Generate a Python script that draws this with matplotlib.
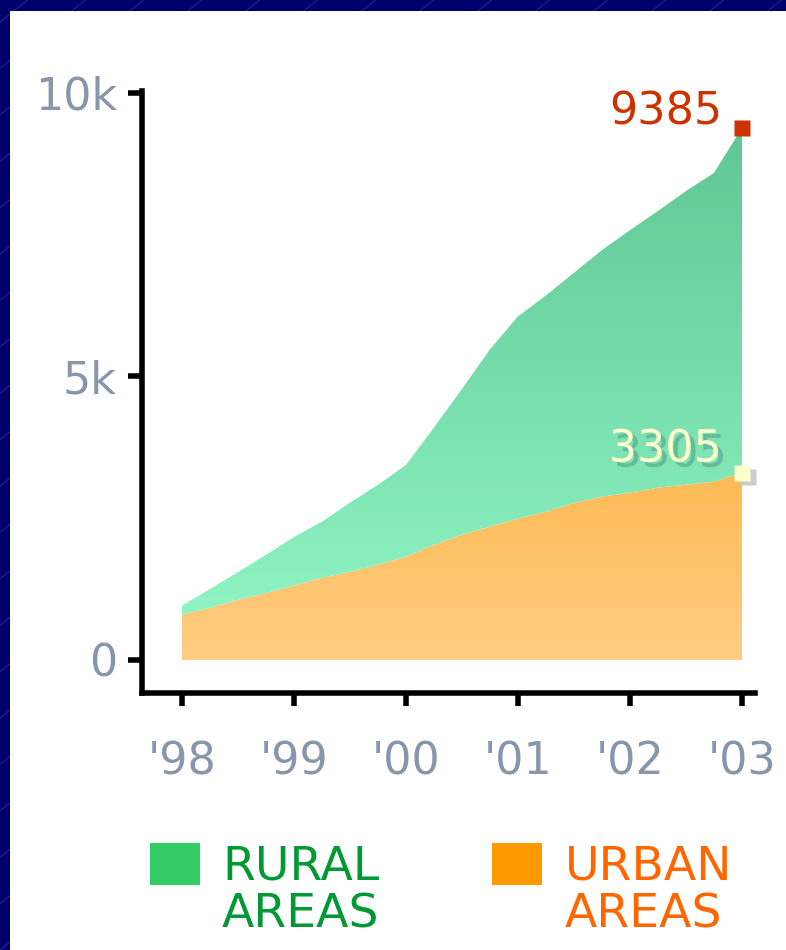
import numpy as np
import matplotlib
matplotlib.use("Agg")
import matplotlib.pyplot as plt
from matplotlib.patches import Rectangle
from matplotlib.lines import Line2D
from matplotlib.colors import to_rgb
import matplotlib.transforms as mtransforms
import matplotlib.patheffects as pe

# ---- data (quarterly) ---------------------------------------------------
periods = [1998.0, 1998.25, 1998.5, 1998.75, 1999.0, 1999.25, 1999.5, 1999.75,
           2000.0, 2000.25, 2000.5, 2000.75, 2001.0, 2001.25, 2001.5, 2001.75,
           2002.0, 2002.25, 2002.5, 2002.75, 2003.0]
urban = [800, 920, 1060, 1180, 1310, 1450, 1555, 1680,
         1820, 2030, 2210, 2350, 2490, 2615, 2770, 2880,
         2950, 3040, 3090, 3145, 3305]
rural = [160, 330, 490, 675, 860, 990, 1220, 1410,
         1620, 2070, 2570, 3130, 3570, 3815, 4060, 4350,
         4630, 4880, 5180, 5445, 6080]

year_ticks = [1998, 1999, 2000, 2001, 2002, 2003]
year_labels = ["'98", "'99", "'00", "'01", "'02", "'03"]
value_ticks = [0, 5000, 10000]
value_labels = ["0", "5k", "10k"]

legend_names = [("RURAL", "AREAS"), ("URBAN", "AREAS")]

# ---- style ------------------------------------------------------------
NAVY = "#00006C"
TICK_GREY = "#8796AA"
GREEN_SWATCH, GREEN_TEXT = "#33CC66", "#009933"
ORANGE_SWATCH, ORANGE_TEXT = "#FF9900", "#FF6600"
FONT = "DejaVu Sans"

W, H = 786, 950
fig = plt.figure(figsize=(W / 100, H / 100), dpi=100)
fig.patch.set_facecolor(NAVY)

# faint diagonal streaks on the navy frame
for k in range(-20, 40):
    x0 = k * 58
    fig.add_artist(Line2D([x0 / W, (x0 + 1250) / W], [0, 1000 / H],
                          transform=fig.transFigure, color="#4a4aa8",
                          lw=0.7, alpha=0.55, zorder=-3))
# white slide panel
fig.add_artist(Rectangle((10 / W, 0), 1, 1 - 11 / H, transform=fig.transFigure,
                         facecolor="white", edgecolor="none", zorder=-2))

ax = fig.add_axes([142 / W, 1 - 693 / H, (755 - 142) / W, (693 - 91) / H])
ax.set_facecolor("none")

x = np.array(periods)
u = np.array(urban, dtype=float)
total = u + np.array(rural, dtype=float)


def gradient_fill(ax, x, lo, hi, y_bot, y_top, c_bot, c_top):
    poly = ax.fill_between(x, lo, hi, facecolor="none", edgecolor="none")
    yy = np.linspace(y_bot, y_top, 256)
    f = ((yy - y_bot) / (y_top - y_bot))[:, None]
    cb, ct = np.array(to_rgb(c_bot)), np.array(to_rgb(c_top))
    img = (cb * (1 - f) + ct * f)[:, None, :]
    path = poly.get_paths()[0]
    im = ax.imshow(img, extent=[x.min(), x.max(), y_bot, y_top],
                   origin="lower", aspect="auto", zorder=1, interpolation="bilinear")
    im.set_clip_path(path, transform=ax.transData)


# stacked areas: urban at the base, rural on top
gradient_fill(ax, x, 0, u, 0, 3400, "#FFCD82", "#FFBA55")
gradient_fill(ax, x, u, total, 600, 9400, "#90F4C4", "#5FC694")

# end-point markers and value labels
ax.plot(x[-1], total[-1], "s", color="#CC3300", ms=11, mec="none",
        clip_on=False, zorder=4)
ax.annotate(f"{total[-1]:.0f}", (x[-1], total[-1]), xytext=(-20, 3),
            textcoords="offset pixels", ha="right", va="baseline",
            color="#CC3300", fontsize=32, family=FONT, zorder=5)

shadow = mtransforms.offset_copy(ax.transData, fig=fig, x=6, y=-4, units="dots")
ax.plot(x[-1], u[-1], "s", color="#CCCCCC", ms=11, mec="none",
        clip_on=False, zorder=3, transform=shadow)
ax.plot(x[-1], u[-1], "s", color="#FFFFCC", ms=11, mec="none",
        clip_on=False, zorder=4)
ax.annotate(f"{u[-1]:.0f}", (x[-1], u[-1]), xytext=(-20, 11),
            textcoords="offset pixels", ha="right", va="baseline",
            color="#FFFFCC", fontsize=32, family=FONT, zorder=5,
            path_effects=[pe.SimplePatchShadow(offset=(3.6, -3.6),
                                               shadow_rgbFace="#66BB99",
                                               alpha=1.0),
                          pe.Normal()])

# axes
ax.set_xlim(1998 - 40 / 112, 2003 + 13 / 112)
ax.set_ylim(-583, 10035)
for side in ("top", "right"):
    ax.spines[side].set_visible(False)
for side in ("left", "bottom"):
    ax.spines[side].set_linewidth(4)
    ax.spines[side].set_color("black")

ax.set_xticks(year_ticks)
ax.set_xticklabels(year_labels)
ax.set_yticks(value_ticks)
ax.set_yticklabels(value_labels)
ax.tick_params(axis="x", direction="out", length=9, width=4, pad=25,
               labelsize=32, labelcolor=TICK_GREY, color="black")
ax.tick_params(axis="y", direction="out", length=10, width=4, pad=8,
               labelsize=32, labelcolor=TICK_GREY, color="black")
for lab in ax.get_xticklabels() + ax.get_yticklabels():
    lab.set_family(FONT)

# legend
swatches = [(150, GREEN_SWATCH, GREEN_TEXT, 222), (492, ORANGE_SWATCH, ORANGE_TEXT, 565)]
for (sx, sc, tc, tx), (l1, l2) in zip(swatches, legend_names):
    fig.add_artist(Rectangle((sx / W, 1 - 885 / H), 50 / W, 42 / H,
                             transform=fig.transFigure, facecolor=sc,
                             edgecolor="none"))
    fig.text(tx / W, 1 - 880 / H, l1, color=tc, fontsize=34, family=FONT,
             ha="left", va="baseline")
    fig.text(tx / W, 1 - 927 / H, l2, color=tc, fontsize=34, family=FONT,
             ha="left", va="baseline")

fig.savefig("out.png", dpi=100, facecolor=fig.get_facecolor())
